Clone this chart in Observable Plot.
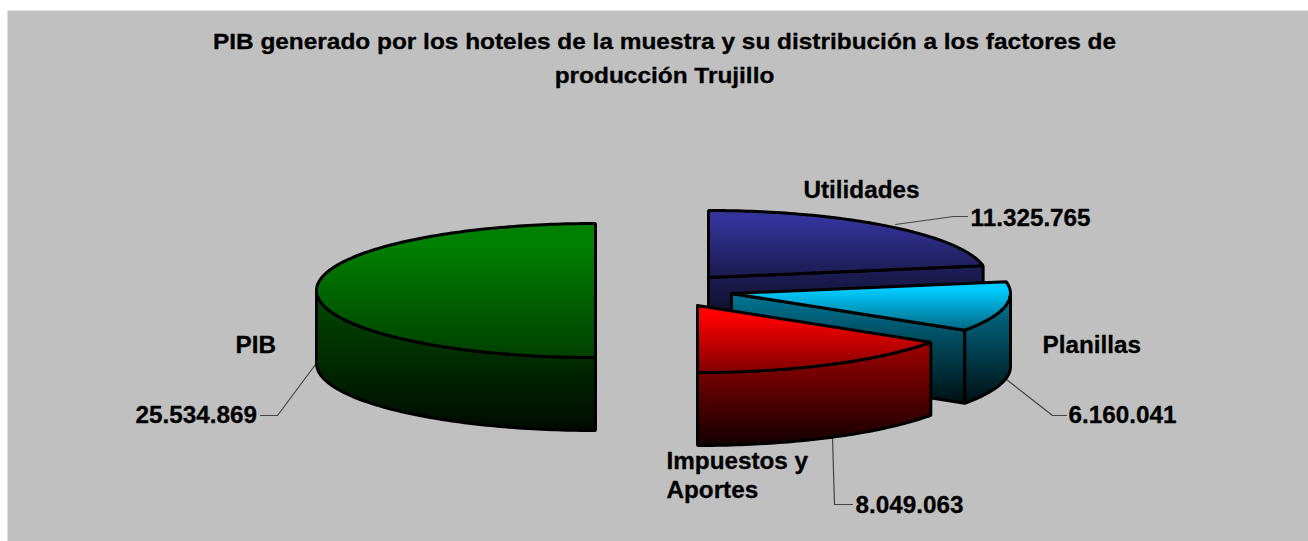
<!DOCTYPE html>
<html lang="es">
<head>
<meta charset="utf-8">
<script src="https://cdn.jsdelivr.net/npm/d3@7"></script>
<script src="https://cdn.jsdelivr.net/npm/@observablehq/plot@0.6"></script>
<style>
html,body{margin:0;padding:0;background:#fff}
svg{display:block}
</style>
</head>
<body>
<div id="chart"></div>
<script>
// ---- data
const names = ["Utilidades", "Planillas", "Impuestos y\nAportes", "PIB"];
const values = [11325765, 6160041, 8049063, 25534869];
const titleLines = [
  "PIB generado por los hoteles de la muestra y su distribución a los factores de",
  "producción Trujillo"
];

// ---- layout and styles
const W = 1308, H = 541;
const rx = 279, ry = 67, depth = 73;
const apexX = [708, 731, 697, 595];
const apexY = [277, 293, 305, 290];
const baseColors = ["#333399", "#00ccff", "#ff0000", "#008000"];
const topGradY = [[210, 277], [282, 330], [305, 372], [223, 357]];
const wallGradY = [[265, 350], [293, 402], [350, 443], [290, 430]];
const topStops = [[0, 1], [0.15, 1], [1, 0.5]];
const wallStops = [[0, 0.58], [1, 0.08]];
const nameX = [803, 1042, 666, 235];
const nameY = [190, 345, 461, 345];
const valueX = [970, 1068, 855, 135];
const valueY = [218, 415, 505, 415];
const leaderX = [[895, 953, 967], [1006, 1052, 1066], [832, 834, 852], [315, 277, 260]];
const leaderY = [[224, 216, 216], [379, 415, 415], [437, 504, 504], [364, 415, 415]];
const titleStretch = 1.135, labelStretch = 1.055;

// ---- geometry derived from the values
const total = d3.sum(values);
const dot = d3.formatLocale({decimal: ",", thousands: ".", grouping: [3], currency: ["", ""]}).format(",d");
let acc = 0;
const slices = values.map((v, i) => {
  const start = 90 - acc / total * 360;
  acc += v;
  const end = 90 - acc / total * 360;
  return {i, start, end, cx: apexX[i], cy: apexY[i], topFill: `url(#top${i})`, wallFill: `url(#wall${i})`};
});
const pt = (s, deg, dz = 0) => ({
  x: s.cx + rx * Math.cos(deg * Math.PI / 180),
  y: s.cy - ry * Math.sin(deg * Math.PI / 180) + dz
});
const arcPts = (s, a, b, dz = 0) => {
  const n = Math.max(2, Math.ceil(Math.abs(b - a)));
  return d3.range(n + 1).map(k => pt(s, a + (b - a) * k / n, dz));
};
const apexPt = (s, dz = 0) => ({x: s.cx, y: s.cy + dz});
const closeRing = p => [...p, p[0]];
const topFace = s => closeRing([apexPt(s), ...arcPts(s, s.start, s.end)]);
const cutFace = (s, deg) => closeRing([apexPt(s), pt(s, deg), pt(s, deg, depth), apexPt(s, depth)]);
const rimFace = (s, a, b) => closeRing([...arcPts(s, a, b), ...arcPts(s, b, a, depth)]);

const [util, plan, imp, pib] = slices;
// painter's order: back to front
const faces = [
  {points: rimFace(pib, 180, 270), fill: pib.wallFill},
  {points: topFace(pib), fill: pib.topFill},
  {points: cutFace(util, util.end), fill: util.wallFill},
  {points: topFace(util), fill: util.topFill},
  {points: cutFace(plan, plan.end), fill: plan.wallFill},
  {points: topFace(plan), fill: plan.topFill},
  {points: rimFace(plan, plan.end, 0), fill: plan.wallFill},
  {points: rimFace(imp, imp.end, imp.start), fill: imp.wallFill},
  {points: topFace(imp), fill: imp.topFill}
];

const gradients = (index, {y}) => {
  const defs = d3.create("svg:defs");
  const add = (id, c, [y1, y2], stops) => {
    const g = defs.append("svg:linearGradient")
      .attr("id", id).attr("gradientUnits", "userSpaceOnUse")
      .attr("x1", 0).attr("x2", 0).attr("y1", y(y1)).attr("y2", y(y2));
    const col = d3.rgb(c);
    stops.forEach(([o, k]) => g.append("svg:stop").attr("offset", o)
      .attr("stop-color", d3.rgb(col.r * k, col.g * k, col.b * k).formatHex()));
  };
  baseColors.forEach((c, i) => {
    add(`top${i}`, c, topGradY[i], topStops);
    add(`wall${i}`, c, wallGradY[i], wallStops);
  });
  return defs.node();
};

const font = "Liberation Sans, Arial, sans-serif";
const nameRows = names.flatMap((n, i) => n.split("\n").map((t, k) => ({t, x: nameX[i], y: nameY[i] + k * 29})));
const valueRows = values.map((v, i) => ({t: dot(v), x: valueX[i], y: valueY[i]}));
const titleRows = titleLines.map((t, i) => ({t, x: 664, y: 41.5 + i * 34}));
const leaders = leaderX.flatMap((xs, i) => xs.map((x, k) => ({i, x, y: leaderY[i][k]})));
const textStyle = {x: "x", y: "y", text: "t", fontWeight: "bold", fill: "#000", stroke: "#000", strokeWidth: 0.3};

const chart = Plot.plot({
  width: W, height: H,
  margin: 0,
  x: {domain: [0, W], range: [0, W], axis: null},
  y: {domain: [0, H], range: [0, H], axis: null},
  style: {background: "#fff", fontFamily: font, color: "#000"},
  marks: [
    Plot.frame({fill: "#c0c0c0", stroke: "none", insetLeft: 7, insetTop: 10}),
    gradients,
    Plot.line(leaders, {x: "x", y: "y", z: "i", stroke: "#444", strokeWidth: 1.2}),
    ...faces.map(f => Plot.line(f.points, {
      x: "x", y: "y", fill: f.fill, stroke: "#000", strokeWidth: 3, strokeLinejoin: "miter"
    })),
    Plot.text(titleRows, {...textStyle, fontSize: 21.5, textAnchor: "middle", className: "title-text"}),
    Plot.text(nameRows, {...textStyle, fontSize: 23, textAnchor: "start", className: "label-text"}),
    Plot.text(valueRows, {...textStyle, fontSize: 23, textAnchor: "start", className: "label-text"})
  ]
});
document.getElementById("chart").appendChild(chart);

// The reference's type is wider than the installed Arial metric; widen the real text to match.
const widen = (sel, k) => chart.querySelectorAll(`${sel} text`).forEach(t => {
  t.setAttribute("textLength", t.getComputedTextLength() * k);
  t.setAttribute("lengthAdjust", "spacingAndGlyphs");
});
widen(".title-text", titleStretch);
widen(".label-text", labelStretch);
</script>
</body>
</html>
